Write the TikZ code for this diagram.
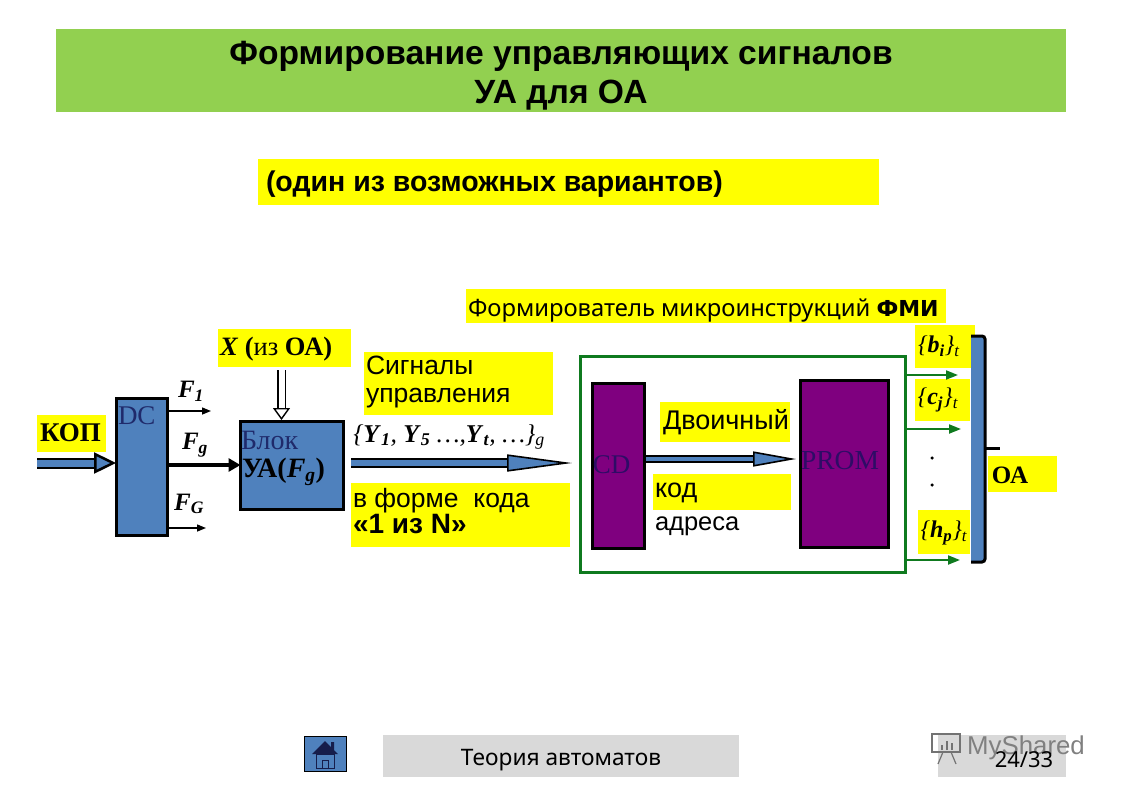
\documentclass[tikz,border=0pt]{standalone}
\usepackage{fontspec}
\setmainfont{Liberation Serif}
\newfontfamily\arl{Liberation Sans}
\newfontfamily\thm[BoldFont={DejaVu Sans Bold}]{Noto Sans}
\usetikzlibrary{arrows.meta}
\definecolor{ttlgreen}{HTML}{92D050}
\definecolor{hl}{HTML}{FFFF00}
\definecolor{blk}{HTML}{4F81BD}
\definecolor{prp}{HTML}{7F007F}
\definecolor{grn}{HTML}{0F7A1F}
\definecolor{gry}{HTML}{D9D9D9}
\definecolor{dtxt}{HTML}{1F2A6B}
\definecolor{ptxt}{HTML}{2E0C66}
\newcommand{\fs}[1]{\fontsize{#1}{#1}\selectfont}
\newcommand{\rub}[2]{\textbf{\textit{#1}}\textsubscript{\textbf{\textit{#2}}}}
\tikzset{
  x=1pt,y=-1pt,
  box/.style={anchor=north west,inner sep=0,outer sep=0},
  ybox/.style={box,fill=hl,align=left},
  unit/.style={box,draw=black,line width=3pt,fill=blk},
  pblock/.style={box,draw=black,line width=3pt,fill=prp},
  lbl/.style={inner sep=0,outer sep=0},
  thin arrow/.style={-{Triangle[length=9pt,width=7pt]},line width=1.4pt},
  green arrow/.style={-{Triangle[length=12pt,width=9pt,fill=grn]},line width=2pt,draw=grn},
  fat arrow/.style={double=blk,double distance=#1,line width=2pt},
}
\begin{document}
\begin{tikzpicture}
\useasboundingbox (0,0) rectangle (1122,793);

% title and subtitle
\node[box,fill=ttlgreen,minimum width=1010pt,minimum height=83pt] (title) at (56,29) {};
\node[lbl,anchor=base,font=\arl\bfseries\fs{33.6}] (titletext) at (561,64) {Формирование управляющих сигналов};
\node[lbl,anchor=base,font=\arl\bfseries\fs{33.6}] (titletextb) at (561,103) {УА для ОА};
\node[ybox,minimum width=621pt,minimum height=46pt] (subbox) at (258,159) {};
\node[lbl,anchor=base west,font=\arl\bfseries\fs{28.5}] (subtext) at (266,191) {(один из возможных вариантов)};

% yellow labels
\node[ybox,minimum width=480pt,minimum height=34pt] (fmibox) at (466,289) {};
\node[lbl,anchor=base west,font=\thm\fs{23.8}] (fmi) at (468,316) {Формирователь микроинструкций {\fs{22}\textbf{ФМИ}}};

\node[ybox,minimum width=133pt,minimum height=38pt] (xbox) at (218,329) {};
\node[lbl,anchor=west,font=\fs{26.5}] (xtext) at (220,349) {\textbf{\textit{X}} \textbf{(}из \textbf{ОА)}};

\node[ybox,minimum width=69pt,minimum height=37pt] (kopbox) at (37,415) {};
\node[lbl,font=\bfseries\fs{27}] (koptext) at (70.5,433) {КОП};

\node[ybox,minimum width=189pt,minimum height=63pt] (sigbox) at (364,352) {};
\node[lbl,anchor=west,align=left,font=\arl\fs{26.5}] (sigtext) at (366,382) {Сигналы\\[1pt]управления};

\node[ybox,minimum width=219pt,minimum height=64pt] (codebox) at (351,483) {};
\node[lbl,anchor=west,align=left,font=\arl\fs{26.5}] (codetext) at (353,511) {в форме\ \ кода\\[0pt]{\fs{28}\textbf{«1 из N»}}};

\node[lbl,font=\fs{25.6}] (ylist) at (449,437) {\textit{\{}\rub{Y}{1}\textit{, }\rub{Y}{5}\textit{ …,}\rub{Y}{t}\textit{, …\}}\textsubscript{\textit{g}}};

% blocks
\node[unit,minimum width=51pt,minimum height=137pt] (dc) at (116.5,398.5) {};
\node[lbl,anchor=west,font=\fs{27},text=dtxt] (dclabel) at (118,416) {DC};
\node[unit,minimum width=103pt,minimum height=88pt] (ua) at (240.5,421.5) {};
\node[lbl,anchor=west,font=\fs{28},text=dtxt] (ualabel) at (241,440) {Блок};
\node[lbl,anchor=west,font=\bfseries\fs{28}] (uatext) at (242,472) {УА(\textit{F}\textsubscript{\textit{g}})};

\node[lbl,font=\fs{25}] (f1) at (191,391) {\rub{F}{1}};
\node[lbl,font=\fs{25}] (fg) at (195,445) {\rub{F}{g}};
\node[lbl,font=\fs{25}] (fgg) at (189,504) {\rub{F}{G}};

% microinstruction former
\node[box,draw=grn,line width=3pt,minimum width=325pt,minimum height=216pt] (former) at (580.5,356.5) {};
\node[pblock,minimum width=52pt,minimum height=165pt] (cd) at (592.5,383.5) {};
\node[lbl,font=\fs{27},text=ptxt] (cdlabel) at (611.5,465) {CD};
\node[pblock,minimum width=88pt,minimum height=167pt] (prom) at (800.5,380.5) {};
\node[lbl,font=\fs{27.5},text=ptxt] (promlabel) at (840,461) {PROM};

\node[ybox,minimum width=130pt,minimum height=40pt] (binbox) at (660,402) {};
\node[lbl,anchor=west,font=\arl\fs{27}] (bintext) at (663,422) {Двоичный};
\node[ybox,minimum width=138pt,minimum height=36pt] (kodbox) at (653,474) {};
\node[lbl,anchor=west,font=\arl\fs{27}] (kodtext) at (655,493) {код};
\node[lbl,anchor=west,font=\arl\fs{25.5}] (addrtext) at (655,526) {адреса};

% signal labels
\node[ybox,minimum width=60pt,minimum height=43pt] (bibox) at (915,325) {};
\node[lbl,font=\fs{24}] (bi) at (939,346) {\textit{\{}\rub{b}{i}\textit{\}}\textsubscript{\textit{t}}};
\node[ybox,minimum width=55pt,minimum height=42pt] (cjbox) at (915,379) {};
\node[lbl,font=\fs{24}] (cj) at (938,400) {\textit{\{}\rub{c}{j}\textit{\}}\textsubscript{\textit{t}}};
\node[ybox,minimum width=52pt,minimum height=44pt] (hpbox) at (918,510) {};
\node[lbl,font=\fs{24}] (hp) at (944,533) {\textit{\{}\rub{h}{p}\textit{\}}\textsubscript{\textit{t}}};
\node[circle,fill=black,minimum size=3.5pt,inner sep=0] (dot1) at (932,458) {};
\node[circle,fill=black,minimum size=3.5pt,inner sep=0] (dot2) at (932,485) {};

% OA bus
\node[box,fill=blk,minimum width=14pt,minimum height=226pt] (bus) at (971,336) {};
\draw[line width=3pt,rounded corners=3pt] (bus.north west) -- (bus.north east) -- (bus.south east) -- (bus.south west);
\coordinate (bustick) at (985,448);
\coordinate (bustickend) at (1000,448);
\draw[line width=3pt] (bustick) -- (bustickend);
\node[ybox,minimum width=69pt,minimum height=36pt] (oabox) at (988,456) {};
\node[lbl,font=\bfseries\fs{25}] (oatext) at (1010,475) {ОА};

% connectors
\coordinate (kopstart) at (37,463);
\coordinate (kopend) at (116,463);
\draw[fat arrow=7pt,-{Triangle[length=22pt,width=21pt,line width=2.5pt,fill=blk]}] (kopstart) -- (kopend);
\coordinate (xa) at (281.5,370);
\coordinate (xb) at (281.5,420);
\draw[double=white,double distance=6pt,line width=1.4pt,-{Triangle[length=12pt,width=17pt,line width=1.4pt,fill=white]}] (xa) -- (xb);
\coordinate (s1) at (169,411); \coordinate (e1) at (211,411);
\coordinate (s3) at (169,528); \coordinate (e3) at (206,528);
\draw[thin arrow] (s1) -- (e1);
\draw[thin arrow] (s3) -- (e3);
\coordinate (s2) at (169,465);
\draw[line width=4pt,-{Triangle[length=12pt,width=13pt]}] (s2) -- (ua.west |- s2);
\coordinate (ctls) at (351,463); \coordinate (ctle) at (572,463);
\draw[fat arrow=5.5pt,-{Triangle[length=65pt,width=17pt,line width=1.6pt,fill=blk]}] (ctls) -- (ctle);
\coordinate (adds) at (646,459); \coordinate (adde) at (796,459);
\draw[fat arrow=4pt,-{Triangle[length=43pt,width=15pt,line width=1.6pt,fill=blk]}] (adds) -- (adde);
\coordinate (g1s) at (907,375); \coordinate (g1e) at (958,375);
\coordinate (g2s) at (907,429); \coordinate (g2e) at (961,429);
\coordinate (g3s) at (907,560); \coordinate (g3e) at (960,560);
\draw[green arrow] (g1s) -- (g1e);
\draw[green arrow] (g2s) -- (g2e);
\draw[green arrow] (g3s) -- (g3e);

% footer
\node[box,draw=black,line width=0.8pt,fill=blk,minimum width=42pt,minimum height=35pt] (home) at (304.5,736.5) {};
\fill[dtxt!70!black] (312,754) -- (325,741) -- (331,747) -- (331,742) -- (334,742) -- (334,750) -- (338,754) -- cycle;
\draw[dtxt!70!black,line width=1pt] (316,754) rectangle (334,768);
\draw[dtxt!70!black,line width=1pt] (322,768) -- (322,760) -- (328,760) -- (328,768);
\node[box,fill=gry,minimum width=356pt,minimum height=42pt] (footbar) at (383,735) {};
\node[lbl,anchor=base,font=\thm\fs{22.7}] (foottext) at (561,765) {Теория автоматов};
\node[box,fill=gry,minimum width=128pt,minimum height=42pt] (pagebar) at (938,735) {};
\node[lbl,anchor=base,font=\arl\fs{25.8},text=black!50] (mark) at (1026,754) {MyShared};
\draw[black!55,line width=1.5pt] (932,734) rectangle (960,752);
\draw[black!55,line width=2pt] (942,750) -- (942,745) (947,750) -- (947,741) (952,750) -- (952,743);
\draw[black!55,line width=1.2pt] (943,752) -- (938,764) (951,752) -- (956,764);
\node[lbl,anchor=base,font=\thm\fs{22}] (pagetext) at (1024,767) {24/33};
\end{tikzpicture}
\end{document}
